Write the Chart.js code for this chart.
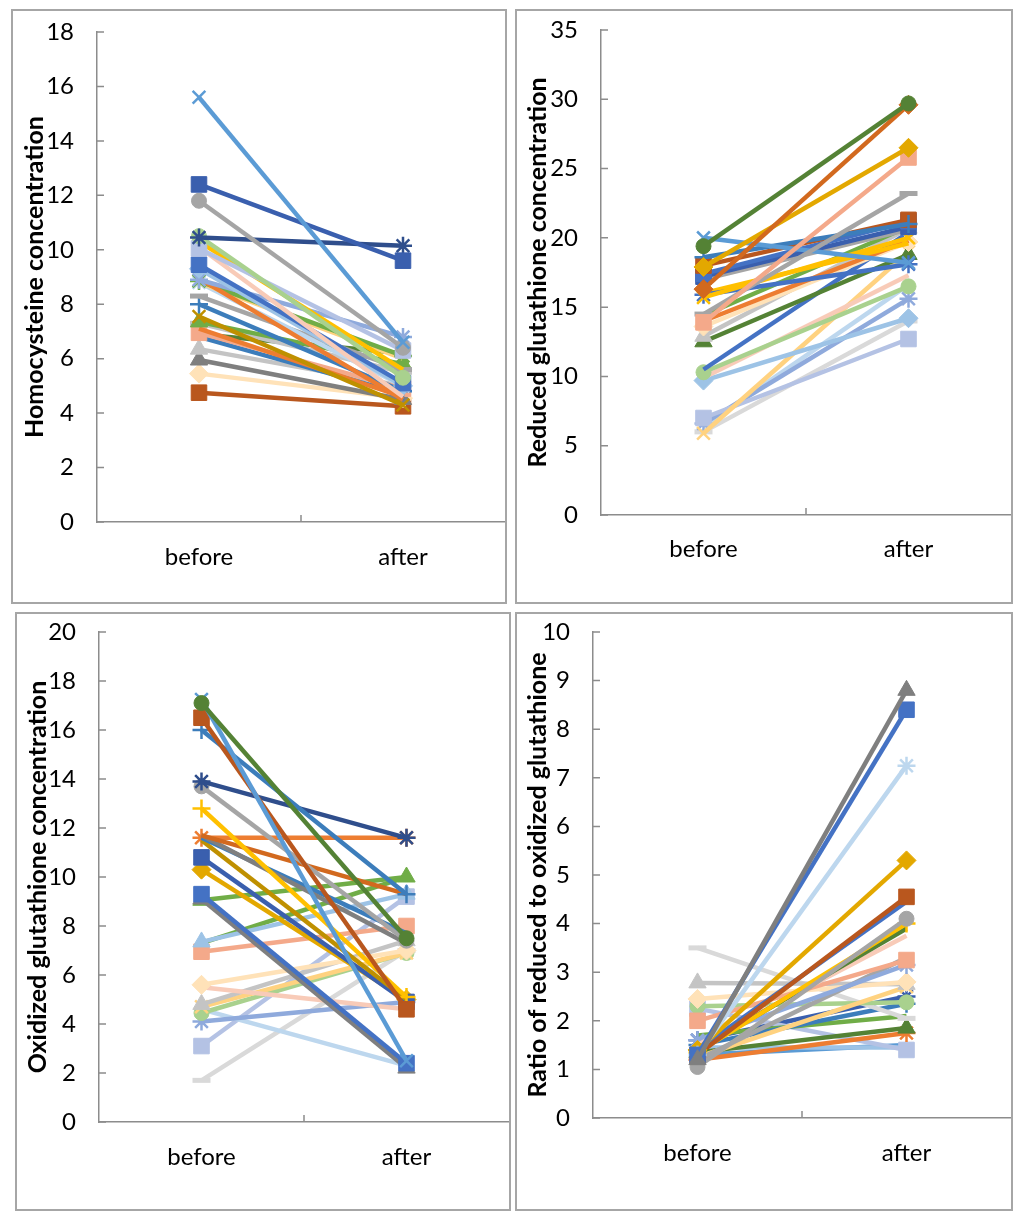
<!DOCTYPE html>
<html lang="en">
<head>
<meta charset="UTF-8">
<title>Before / after</title>
<script src="https://cdn.jsdelivr.net/npm/chart.js"></script>
<style>
  body { margin: 0; background: #fff; }
  .panel { position: absolute; box-sizing: border-box; border: 2px solid #a6a6a6; background: #fff; }
  .panel canvas { position: absolute; left: 0; top: 0; }
</style>
</head>
<body>
<div class="panel" style="left:11px;top:9px;width:496px;height:595px"><canvas id="c1" width="492" height="591"></canvas></div>
<div class="panel" style="left:515px;top:9px;width:498px;height:595px"><canvas id="c2" width="494" height="591"></canvas></div>
<div class="panel" style="left:15px;top:612px;width:496px;height:599px"><canvas id="c3" width="492" height="595"></canvas></div>
<div class="panel" style="left:515px;top:612px;width:498px;height:599px"><canvas id="c4" width="494" height="595"></canvas></div>

<script>
// data
const categories = ['before', 'after'];

// homocysteine
const hcyBefore = [15.6, 12.4, 11.8, 10.45, 10.5, 10.05, 10.3, 10.1, 9.45, 9.3, 8.9, 8.95, 8.85, 8.8, 8.8, 8.3, 8.0, 7.55, 7.35, 7.3, 7.1, 6.95, 6.8, 6.9, 6.35, 5.95, 5.45, 4.75];
const hcyAfter  = [6.6, 9.6, 6.4, 10.15, 5.3, 6.3, 5.6, 4.6, 5.1, 5.0, 6.8, 4.5, 6.1, 6.0, 5.0, 5.6, 4.8, 4.3, 5.8, 5.5, 4.6, 4.9, 4.7, 6.2, 5.0, 4.5, 4.55, 4.25];
const hcyColors = ['ltBlue', 'darkBlue', 'grey', 'navy', 'ltGreen', 'lavender', 'gold', 'pink', 'blue', 'sky', 'lavBlue', 'orange', 'green', 'ltGold', 'paleBlue', 'grey', 'steel', 'dkGold', 'green', 'ltGrey', 'orange', 'salmon', 'steel', 'dkGreen', 'ltGrey', 'dkGrey', 'peach', 'brown'];
const hcyMarkers = ['x', 'sq', 'ci', 'as', 'ci', 'sq', 'no', 'no', 'sq', 'di', 'as', 'no', 'as', 'no', 'x', 'da', 'pl', 'x', 'tr', 'da', 'no', 'sq', 'no', 'no', 'tr', 'tr', 'di', 'sq'];

// reduced glutathione
const gshBefore = [19.4, 16.3, 17.9, 13.9, 14.5, 20.0, 18.6, 18.0, 17.4, 17.2, 15.7, 15.9, 16.0, 17.0, 14.4, 14.0, 13.6, 12.9, 12.5, 10.5, 10.3, 9.9, 9.7, 5.9, 7.0, 6.6, 6.4, 6.0];
const gshAfter  = [29.7, 29.6, 26.5, 25.8, 23.2, 18.2, 21.0, 21.3, 21.2, 20.8, 20.0, 18.1, 19.6, 20.6, 20.8, 19.8, 19.7, 20.7, 18.8, 20.4, 16.5, 17.3, 14.2, 19.0, 12.7, 15.6, 16.6, 14.0];
const gshColors = ['dkGreen', 'dkOrange', 'goldDeep', 'salmon', 'grey', 'ltBlue', 'steel', 'brown', 'blue', 'darkBlue', 'gold', 'blue', 'gold', 'grey', 'green', 'orange', 'peach', 'ltGrey', 'dkGreen', 'blue', 'ltGreen', 'pink', 'sky', 'ltGold', 'lavender', 'lavBlue', 'paleBlue', 'paleGrey'];
const gshMarkers = ['ci', 'di', 'di', 'sq', 'da', 'x', 'pl', 'sq', 'sq', 'sq', 'x', 'as', 'no', 'ci', 'no', 'no', 'di', 'tr', 'tr', 'no', 'ci', 'no', 'di', 'x', 'sq', 'as', 'no', 'da'];

// oxidized glutathione
const gssgBefore = [17.1, 17.25, 16.5, 16.0, 13.9, 13.7, 12.8, 11.7, 11.7, 11.6, 11.5, 11.6, 10.8, 10.3, 9.3, 9.1, 9.05, 7.35, 7.3, 6.95, 5.6, 5.5, 4.8, 4.7, 4.45, 4.1, 4.6, 3.1, 1.7];
const gssgAfter  = [7.5, 2.5, 4.6, 9.3, 11.6, 7.4, 5.1, 9.3, 7.3, 7.7, 5.0, 11.6, 4.9, 5.0, 2.4, 2.2, 10.0, 9.3, 10.0, 8.0, 7.0, 4.6, 7.4, 6.9, 6.9, 4.9, 2.3, 9.2, 7.0];
const gssgColors = ['dkGreen', 'ltBlue', 'brown', 'steel', 'navy', 'grey', 'gold', 'dkOrange', 'dkGrey', 'steel', 'dkGold', 'orange', 'darkBlue', 'goldDeep', 'blue', 'dkGrey', 'green', 'sky', 'green', 'salmon', 'peach', 'pink', 'ltGrey', 'ltGold', 'ltGreen', 'lavBlue', 'paleBlue', 'lavender', 'paleGrey'];
const gssgMarkers = ['ci', 'x', 'sq', 'pl', 'as', 'ci', 'pl', 'no', 'no', 'no', 'no', 'as', 'sq', 'di', 'sq', 'tr', 'tr', 'tr', 'no', 'sq', 'di', 'no', 'tr', 'x', 'ci', 'as', 'no', 'sq', 'da'];

// ratio reduced / oxidized
const ratioBefore = [1.2, 1.3, 1.3, 1.4, 1.3, 1.4, 1.05, 1.35, 1.4, 1.5, 2.0, 1.6, 1.2, 2.45, 2.78, 1.25, 2.3, 3.5, 1.5, 1.7, 1.35, 1.2, 2.25, 1.45, 1.6, 1.3];
const ratioAfter  = [8.8, 8.4, 7.25, 5.3, 4.55, 4.45, 4.1, 4.0, 3.9, 3.75, 3.25, 3.15, 3.3, 2.8, 2.75, 2.7, 2.38, 2.05, 2.35, 2.1, 1.85, 1.75, 1.4, 1.45, 2.5, 1.5];
const ratioColors = ['dkGrey', 'blue', 'paleBlue', 'goldDeep', 'brown', 'blue', 'grey', 'gold', 'dkGreen', 'pink', 'salmon', 'lavBlue', 'grey', 'peach', 'ltGrey', 'ltGold', 'ltGreen', 'paleGrey', 'steel', 'green', 'dkGreen', 'orange', 'lavender', 'sky', 'darkBlue', 'ltBlue'];
const ratioMarkers = ['tr', 'sq', 'as', 'di', 'sq', 'no', 'ci', 'pl', 'no', 'no', 'sq', 'as', 'no', 'di', 'tr', 'x', 'ci', 'da', 'pl', 'no', 'tr', 'as', 'sq', 'no', 'as', 'no'];

const palette = {
  blue: '#4472C4', darkBlue: '#3A5FAE', navy: '#2F4E8C', steel: '#3C7DBB', ltBlue: '#5B9BD5',
  sky: '#9DC3E6', lavBlue: '#8FAADC', lavender: '#B4C2E4', paleBlue: '#BDD7EE',
  orange: '#ED7D31', dkOrange: '#D2691E', brown: '#B9571E', salmon: '#F4A98A', pink: '#F8CBB8',
  gold: '#FFC000', goldDeep: '#E3A800', dkGold: '#BF9000', ltGold: '#FFD280', peach: '#FFE2B8',
  grey: '#A5A5A5', dkGrey: '#7F7F7F', ltGrey: '#C4C4C4', paleGrey: '#D9D9D9',
  green: '#70AD47', dkGreen: '#548235', ltGreen: '#A9D18E'
};

const markerStyle = { sq: 'rect', ci: 'circle', di: 'rectRot', tr: 'triangle', x: 'crossRot', as: 'star', pl: 'cross', da: 'line', no: 'circle' };
const markerSize  = { sq: 11, ci: 7.5, di: 9.5, tr: 10, x: 9, as: 9, pl: 9, da: 9, no: 0 };
const markerLine  = { sq: 1, ci: 1, di: 1, tr: 1, x: 2.5, as: 2.5, pl: 2.5, da: 5, no: 0 };

const axisColor = '#8c8c8c';
const fontFamily = 'Lato, "Liberation Sans", sans-serif';

// draws the short inside tick marks like the original
const innerTicks = {
  id: 'innerTicks',
  beforeDatasetsDraw(chart) {
    const { ctx, scales: { x, y } } = chart;
    ctx.save();
    ctx.strokeStyle = axisColor;
    ctx.lineWidth = 1.5;
    ctx.beginPath();
    y.ticks.forEach(t => {
      const py = y.getPixelForValue(t.value);
      ctx.moveTo(x.left, py);
      ctx.lineTo(x.left + 7, py);
    });
    const mid = (x.getPixelForValue(0) + x.getPixelForValue(1)) / 2;
    ctx.moveTo(mid, y.bottom);
    ctx.lineTo(mid, y.bottom - 7);
    ctx.stroke();
    ctx.restore();
  }
};

function makeDatasets(before, after, colors, markers) {
  return before.map((b, i) => {
    const col = palette[colors[i]];
    const m = markers[i];
    return {
      data: [b, after[i]],
      borderColor: col,
      backgroundColor: col,
      borderWidth: 4.5,
      pointStyle: markerStyle[m],
      pointRadius: markerSize[m],
      pointBorderWidth: markerLine[m],
      pointBackgroundColor: col,
      pointBorderColor: col
    };
  });
}

function drawPanel(id, title, max, step, series, geo) {
  new Chart(document.getElementById(id), {
    type: 'line',
    data: { labels: categories, datasets: makeDatasets(...series) },
    options: {
      responsive: false,
      animation: false,
      events: [],
      layout: { autoPadding: false, padding: { top: geo.padTop, left: 0, right: 0, bottom: 0 } },
      plugins: { legend: { display: false }, tooltip: { enabled: false } },
      scales: {
        x: {
          offset: true,
          grid: { display: false },
          border: { color: axisColor, width: 1.5 },
          ticks: { color: '#000', font: { family: fontFamily, size: 24 }, padding: geo.xPad, maxRotation: 0 },
          afterFit(s) { s.height = geo.xHeight; s.paddingLeft = 0; s.paddingRight = 0; }
        },
        y: {
          min: 0,
          max: max,
          grid: { display: false },
          border: { color: axisColor, width: 1.5 },
          ticks: { stepSize: step, color: '#000', font: { family: fontFamily, size: 24 }, padding: 15 },
          title: {
            display: true,
            text: title,
            color: '#000',
            font: { family: fontFamily, size: 25, weight: 'bold' },
            padding: { top: geo.titlePad, bottom: 0 }
          },
          afterFit(s) { s.width = geo.yWidth; s.paddingTop = 0; s.paddingBottom = 0; }
        }
      }
    },
    plugins: [innerTicks]
  });
}

drawPanel('c1', 'Homocysteine concentration', 18, 2,
  [hcyBefore, hcyAfter, hcyColors, hcyMarkers],
  { padTop: 21, xHeight: 80, yWidth: 84, titlePad: 7, xPad: 13 });
drawPanel('c2', 'Reduced glutathione concentration', 35, 5,
  [gshBefore, gshAfter, gshColors, gshMarkers],
  { padTop: 19, xHeight: 87, yWidth: 84, titlePad: 6, xPad: 12 });
drawPanel('c3', 'Oxidized glutathione concentration', 20, 2,
  [gssgBefore, gssgAfter, gssgColors, gssgMarkers],
  { padTop: 18, xHeight: 87, yWidth: 82, titlePad: 6, xPad: 13 });
drawPanel('c4', 'Ratio of reduced to oxidized glutathione', 10, 1,
  [ratioBefore, ratioAfter, ratioColors, ratioMarkers],
  { padTop: 18, xHeight: 91, yWidth: 76, titlePad: 6, xPad: 13 });
</script>
</body>
</html>
